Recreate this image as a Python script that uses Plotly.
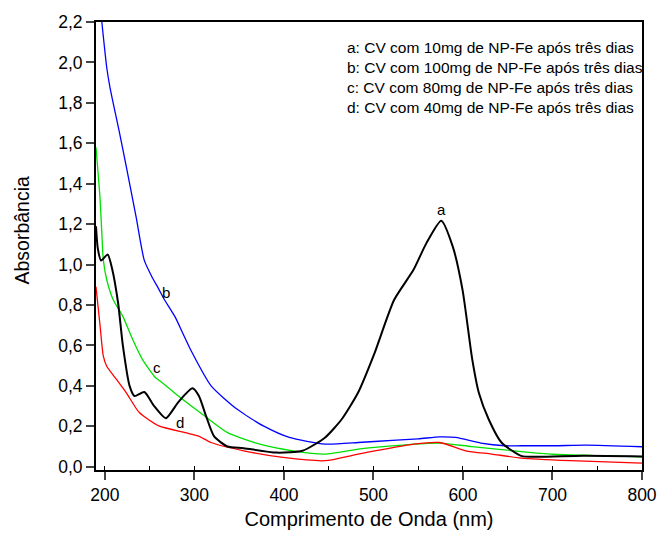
import plotly.graph_objects as go

# Curve a (black) - 10 mg
a_x = [190, 192, 195.7, 203, 208, 214.7, 220, 227.5, 233, 244, 255, 268, 282, 297.7, 305, 313, 322, 337, 355, 391.5, 420.7, 446, 464.5, 482.7, 501, 523, 544.7, 559, 575.7, 588.5, 599.5, 610.4, 617.7, 628.7, 643, 665, 683, 734, 800]
a_y = [1.19, 1.08, 1.02, 1.05, 0.98, 0.81, 0.60, 0.40, 0.35, 0.37, 0.30, 0.24, 0.32, 0.388, 0.35, 0.25, 0.15, 0.10, 0.092, 0.07, 0.079, 0.145, 0.235, 0.366, 0.56, 0.825, 0.974, 1.105, 1.217, 1.09, 0.875, 0.53, 0.366, 0.235, 0.12, 0.054, 0.049, 0.054, 0.051]
# Curve b (blue) - 100 mg
b_x = [196.5, 202, 205.6, 216.5, 223.9, 234.8, 243.9, 253, 260, 266, 278.5, 287, 296.7, 318.6, 347.8, 377, 406, 446, 483, 501, 550, 574, 592, 620, 647, 665, 701.5, 738, 800]
b_y = [2.2, 1.975, 1.877, 1.647, 1.483, 1.236, 1.022, 0.935, 0.88, 0.83, 0.74, 0.66, 0.57, 0.40, 0.284, 0.202, 0.145, 0.112, 0.12, 0.125, 0.138, 0.148, 0.145, 0.117, 0.104, 0.104, 0.104, 0.107, 0.099]
# Curve c (green) - 80 mg
c_x = [190, 194.6, 196.5, 198.2, 202, 209.2, 220, 231, 242, 256.7, 264, 282, 311.4, 337, 373, 410, 446, 483, 501, 540, 574, 610, 665, 700, 750, 800]
c_y = [1.58, 1.32, 1.155, 1.023, 0.925, 0.826, 0.744, 0.629, 0.53, 0.44, 0.416, 0.35, 0.251, 0.169, 0.112, 0.079, 0.063, 0.087, 0.096, 0.11, 0.117, 0.10, 0.075, 0.062, 0.055, 0.049]
# Curve d (red) - 40 mg
d_x = [190, 194.6, 198.2, 202, 212.9, 223.9, 238.4, 260.3, 289.5, 304, 318.6, 355, 399, 446, 483, 545, 574, 603, 632, 665, 720, 800]
d_y = [0.89, 0.695, 0.547, 0.497, 0.432, 0.366, 0.268, 0.202, 0.169, 0.153, 0.12, 0.079, 0.046, 0.03, 0.063, 0.112, 0.12, 0.079, 0.063, 0.043, 0.03, 0.018]

legend_lines = [
    "a: CV com 10mg de NP-Fe após três dias",
    "b: CV com 100mg de NP-Fe após três dias",
    "c: CV com 80mg de NP-Fe após três dias",
    "d: CV com 40mg de NP-Fe após três dias",
]
curve_labels = ["a", "b", "c", "d"]
label_x = [576.5, 267.8, 258, 284.3]
label_y = [1.274, 0.861, 0.491, 0.22]

FONT = "Liberation Sans, Arial, sans-serif"
fig = go.Figure()
for xs, ys, col, w in [(b_x, b_y, "#0000ff", 1.3), (c_x, c_y, "#00e000", 1.3),
                       (d_x, d_y, "#ff0000", 1.3), (a_x, a_y, "#000000", 2)]:
    fig.add_trace(go.Scatter(x=xs, y=ys, mode="lines",
                             line=dict(color=col, width=w, shape="spline", smoothing=0.6),
                             showlegend=False))

for t, x, y in zip(curve_labels, label_x, label_y):
    fig.add_annotation(x=x, y=y, text=t, showarrow=False,
                       font=dict(family=FONT, size=15, color="black"))

for i, t in enumerate(legend_lines):
    fig.add_annotation(xref="paper", yref="paper", x=0.456, y=(467.7 - (46.7 + 20 * i)) / 450 + 0.007,
                       text=t, showarrow=False, xanchor="left", yanchor="middle",
                       font=dict(family=FONT, size=15.5, color="black"))

# y-axis title placed as rotated annotation
fig.add_annotation(xref="paper", yref="paper", x=(21 - 96) / 557, y=(471 - 230) / 450,
                   text="Absorbância", textangle=-90, showarrow=False,
                   xanchor="center", yanchor="middle",
                   font=dict(family=FONT, size=19.5, color="black"))

fig.update_layout(
    width=669, height=539,
    margin=dict(l=96, r=16, t=21, b=68),
    paper_bgcolor="white", plot_bgcolor="white",
    separators=",.",
    font=dict(family=FONT, size=16, color="black"),
    xaxis=dict(range=[190, 800], tick0=200, dtick=100, ticks="outside", ticklen=8,
               tickwidth=1.5, showline=True, linewidth=2, linecolor="black", mirror=True,
               showgrid=False, zeroline=False,
               minor=dict(dtick=50, tick0=200, ticks="inside", ticklen=4, tickwidth=1.2, tickcolor="black"),
               title=dict(text="Comprimento de Onda (nm)", font=dict(size=20), standoff=8),
               tickfont=dict(size=17.5)),
    yaxis=dict(range=[-0.016, 2.2], tick0=0, dtick=0.2, tickformat=".1f", ticks="outside",
               ticklen=8, tickwidth=1.5, showline=True, linewidth=2, linecolor="black", mirror=True,
               showgrid=False, zeroline=False,
               tickfont=dict(size=17.5)),
)
fig.write_html("out.html")
